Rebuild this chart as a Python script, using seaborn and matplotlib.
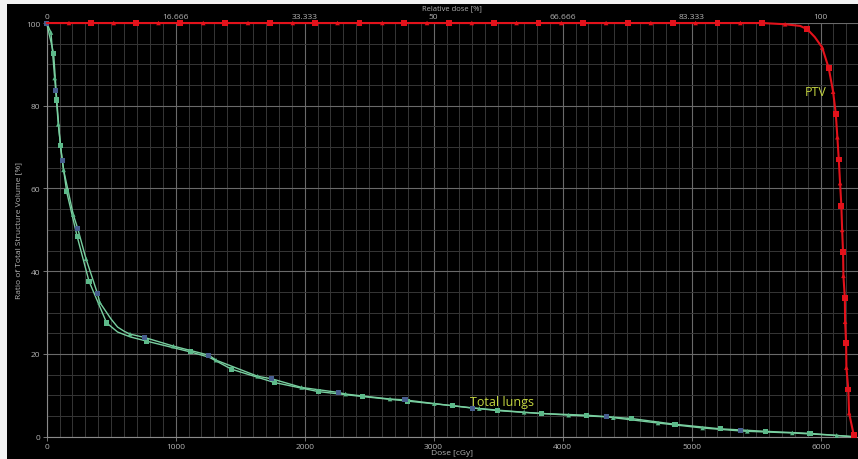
import numpy as np
import pandas as pd
import matplotlib
matplotlib.use("Agg")
import matplotlib.pyplot as plt
import seaborn as sns
from matplotlib.patches import Rectangle
from matplotlib.ticker import MultipleLocator

# PTV DVH: "^" triangle marker, "s" square marker, "" line only
ptv_dose = [0, 173, 343, 520, 690, 867, 1037, 1214, 1384, 1561, 1731, 1908, 2078,
            2255, 2425, 2602, 2772, 2949, 3119, 3296, 3466, 3643, 3813, 3990, 4160,
            4337, 4507, 4684, 4854, 5031, 5201, 5378, 5548, 5725, 5841, 5897, 5955,
            6012, 6063, 6097, 6118, 6130, 6141, 6151, 6161, 6167, 6174, 6177, 6188,
            6190, 6198, 6200, 6215, 6221, 6257]
ptv_vol = [100, 100, 100, 100, 100, 100, 100, 100, 100, 100, 100, 100, 100,
           100, 100, 100, 100, 100, 100, 100, 100, 100, 100, 100, 100,
           100, 100, 100, 100, 100, 100, 100, 100, 99.7, 99.3, 98.5, 96.6,
           94.1, 89.1, 83.4, 78.0, 72.4, 67.0, 61.3, 55.8, 50.0, 44.7, 38.9, 33.5,
           27.8, 22.6, 16.7, 11.4, 5.7, 0.4]
ptv_mark = ["", "^", "s", "^", "s", "^", "s", "^", "s", "^", "s", "^", "s",
            "^", "s", "^", "s", "^", "s", "^", "s", "^", "s", "^", "s",
            "^", "s", "^", "s", "^", "s", "^", "s", "^", "", "s", "",
            "^", "s", "^", "s", "^", "s", "^", "s", "^", "s", "^", "s",
            "^", "s", "^", "s", "^", "s"]

# Total lungs, lower curve (squares)
lung_a_dose = [0, 54, 78, 106, 155, 237, 328, 465, 550, 650, 775, 1113, 1260, 1434,
               1765, 2106, 2450, 2799, 3145, 3494, 3838, 4184, 4531, 4872, 5223,
               5572, 5918, 6250]
lung_a_vol = [100, 92.6, 81.4, 70.3, 59.2, 48.3, 37.6, 27.5, 25.3, 24.1, 23.1, 20.5,
              19.2, 16.3, 13.1, 10.9, 9.7, 8.6, 7.5, 6.3, 5.6, 5.2, 4.4, 3.0, 1.9,
              1.3, 0.8, 0]
lung_a_mark = ["", "s", "s", "s", "s", "s", "s", "s", "", "", "s", "s", "", "s",
               "s", "s", "s", "s", "s", "s", "s", "s", "s", "s", "s",
               "s", "s", ""]

# Total lungs, upper curve (triangles, "b" = blue marker)
lung_b_dose = [0, 33, 62, 70, 90, 121, 131, 206, 240, 305, 395, 411, 500, 550, 600,
               646, 757, 982, 1258, 1313, 1636, 1745, 1977, 2261, 2318, 2662, 2778,
               3005, 3303, 3354, 3701, 4047, 4339, 4393, 4740, 5086, 5376, 5432,
               5781, 6125, 6250]
lung_b_vol = [100, 97.7, 86.7, 83.6, 75.5, 66.7, 64.5, 53.7, 50.4, 43.0, 34.5, 32.5,
              28.4, 26.5, 25.5, 24.8, 24.0, 21.9, 19.7, 18.5, 14.6, 14.0, 11.9, 10.7,
              10.3, 9.1, 8.9, 8.0, 6.9, 6.8, 5.9, 5.2, 4.8, 4.6, 3.3, 2.1, 1.4, 1.3,
              0.9, 0.3, 0]
lung_b_mark = ["b", "^", "^", "b", "^", "b", "^", "^", "b", "^", "b", "^", "", "", "",
               "^", "b", "^", "b", "^", "^", "b", "^", "b", "^", "^", "b",
               "^", "b", "^", "^", "^", "b", "^", "^", "^", "b", "^",
               "^", "^", ""]

dose_ticks = [0, 1000, 2000, 3000, 4000, 5000, 6000]
rel_labels = ["0", "16.666", "33.333", "50", "66.666", "83.333", "100"]
vol_ticks = [0, 20, 40, 60, 80, 100]

RED = "#e3121b"
GREEN = "#79cfa0"
GREEN_MK = "#5dba8a"
BLUE_MK = "#475d8e"
LABEL = "#c5d640"
TXT = "#b4b4b4"

sns.set_style("dark", {"axes.facecolor": "black", "figure.facecolor": "black",
                       "grid.color": "#6e6e6e", "axes.edgecolor": "#8a8a8a"})
plt.rcParams["font.family"] = ["Open Sans", "DejaVu Sans"]

fig = plt.figure(figsize=(8.58, 4.60), dpi=100, facecolor="black")
ax = fig.add_axes([0.0544, 0.0485, 0.9456, 0.8993])
ax.set_facecolor("black")

# light frame strips along the top and left of the screenshot
fig.patches.append(Rectangle((0, 1 - 5 / 460), 1, 5 / 460, transform=fig.transFigure,
                             facecolor="#f2f2f2", edgecolor="none", zorder=10))
fig.patches.append(Rectangle((0, 0), 7 / 858, 1, transform=fig.transFigure,
                             facecolor="#f2f2f2", edgecolor="none", zorder=10))

ax.set_xlim(0, 6290)
ax.set_ylim(0, 100)
ax.xaxis.set_minor_locator(MultipleLocator(100))
ax.yaxis.set_minor_locator(MultipleLocator(5))
ax.grid(which="major", color="#6a6a6a", linewidth=0.8)
ax.grid(which="minor", color="#363636", linewidth=0.7)
ax.set_axisbelow(True)


def draw_curve(dose, vol, mark, color, zorder):
    df = pd.DataFrame({"dose": dose, "vol": vol, "mark": mark})
    sns.lineplot(data=df, x="dose", y="vol", sort=False, estimator=None,
                 color=color, linewidth=1.0, ax=ax, zorder=zorder, clip_on=False)
    return df


a = draw_curve(lung_a_dose, lung_a_vol, lung_a_mark, GREEN, 3)
b = draw_curve(lung_b_dose, lung_b_vol, lung_b_mark, GREEN, 3)
sns.scatterplot(data=a[a["mark"] == "s"], x="dose", y="vol", marker="s", s=14,
                color=GREEN_MK, edgecolor="none", ax=ax, zorder=4, clip_on=False)
sns.scatterplot(data=b[b["mark"] == "^"], x="dose", y="vol", marker="^", s=11,
                color=GREEN_MK, edgecolor="none", ax=ax, zorder=4, clip_on=False)
sns.scatterplot(data=b[b["mark"] == "b"], x="dose", y="vol", marker="s", s=13,
                color=BLUE_MK, edgecolor="none", ax=ax, zorder=4, clip_on=False)

p = pd.DataFrame({"dose": ptv_dose, "vol": ptv_vol, "mark": ptv_mark})
sns.lineplot(data=p, x="dose", y="vol", sort=False, estimator=None, color=RED,
             linewidth=1.5, ax=ax, zorder=5, clip_on=False)
sns.scatterplot(data=p[p["mark"] == "s"], x="dose", y="vol", marker="s", s=18,
                color=RED, edgecolor="none", ax=ax, zorder=6, clip_on=False)
sns.scatterplot(data=p[p["mark"] == "^"], x="dose", y="vol", marker="^", s=11,
                color=RED, edgecolor="none", ax=ax, zorder=6, clip_on=False)

ax.text(5960, 83.5, "PTV", color=LABEL, fontsize=9, ha="center", va="center", zorder=7)
ax.text(3530, 8.5, "Total lungs", color=LABEL, fontsize=9, ha="center", va="center", zorder=7)

ax.set_xticks(dose_ticks)
ax.set_xticklabels([str(t) for t in dose_ticks])
ax.set_yticks(vol_ticks)
ax.set_yticklabels([str(t) for t in vol_ticks])
ax.tick_params(axis="both", which="major", colors="#8a8a8a", labelcolor=TXT,
               labelsize=6, length=3, width=0.6, pad=1.5, bottom=True, left=True)
ax.tick_params(which="minor", length=0)
for side in ["top", "right"]:
    ax.spines[side].set_visible(False)
for side in ["left", "bottom"]:
    ax.spines[side].set_color("#8a8a8a")
    ax.spines[side].set_linewidth(0.8)

ax.set_xlabel("Dose [cGy]", color=TXT, fontsize=6, labelpad=-1)
ax.set_ylabel("Ratio of Total Structure Volume [%]", color=TXT, fontsize=6, labelpad=3)

top = ax.secondary_xaxis("top")
top.set_xticks(dose_ticks)
top.set_xticklabels(rel_labels)
top.tick_params(colors="#8a8a8a", labelcolor=TXT, labelsize=6, length=0, pad=2.5)
top.spines["top"].set_visible(False)
fig.text(0.527, 1 - 9 / 460, "Relative dose [%]", color=TXT, fontsize=5.5,
         ha="center", va="center")

fig.savefig("out.png", dpi=100, facecolor="black")
